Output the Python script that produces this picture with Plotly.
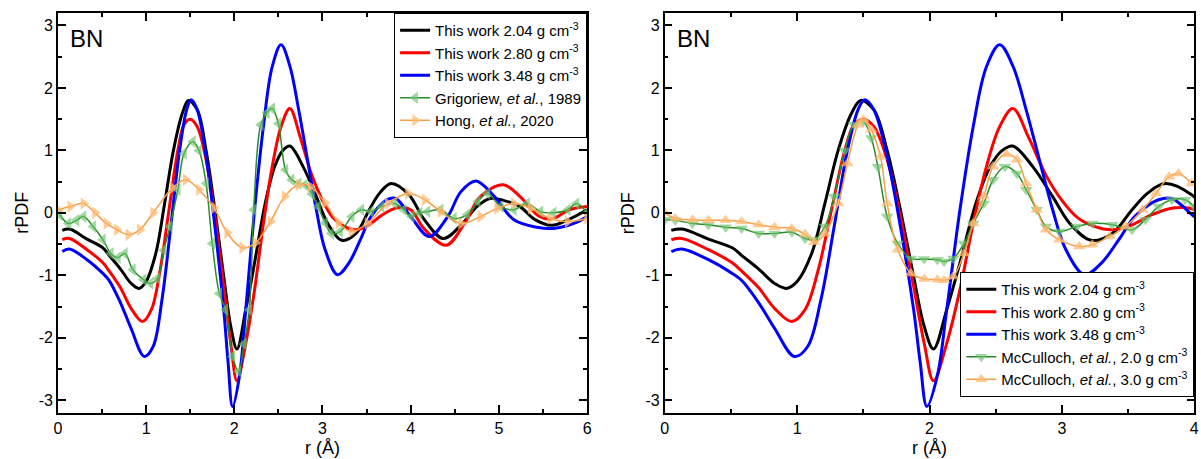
import plotly.graph_objects as go

# ---------------- data ----------------
# This work (same simulations shown in both panels)
r_204 = [0.05, 0.13, 0.33, 0.51, 0.58, 0.71, 0.83, 0.92, 1.00, 1.11, 1.21, 1.31, 1.41, 1.48, 1.58, 1.68, 1.78,
         1.88, 1.96, 2.03, 2.13, 2.23, 2.35, 2.46, 2.55, 2.63, 2.78, 2.93, 3.06, 3.22, 3.38, 3.53, 3.65, 3.78, 3.98,
         4.15, 4.37, 4.60, 4.75, 4.90, 5.05, 5.24, 5.40, 5.60, 5.80, 6.00]
g_204 = [-0.28, -0.26, -0.42, -0.56, -0.68, -0.90, -1.13, -1.21, -1.10, -0.65, 0.15, 1.00, 1.59, 1.80, 1.65, 1.00, 0.05,
         -1.02, -1.82, -2.18, -1.55, -0.80, 0.15, 0.75, 1.00, 1.07, 0.74, 0.26, -0.17, -0.44, -0.33, 0.05, 0.32, 0.47, 0.29,
         -0.10, -0.41, -0.15, 0.10, 0.23, 0.20, 0.10, -0.10, -0.20, -0.10, 0.05]

r_280 = [0.05, 0.13, 0.33, 0.51, 0.58, 0.71, 0.83, 0.96, 1.06, 1.16, 1.26, 1.36, 1.43, 1.50, 1.58, 1.68, 1.78,
         1.88, 1.96, 2.03, 2.13, 2.23, 2.33, 2.43, 2.53, 2.63, 2.75, 2.88, 3.00, 3.12, 3.25, 3.38, 3.52, 3.68,
         3.85, 4.00, 4.15, 4.40, 4.61, 4.79, 5.05, 5.24, 5.45, 5.60, 5.80, 6.00]
g_280 = [-0.43, -0.41, -0.59, -0.80, -0.93, -1.20, -1.53, -1.74, -1.55, -0.91, 0.05, 1.00, 1.41, 1.50, 1.38, 0.85, -0.06,
         -1.18, -2.09, -2.69, -2.09, -1.23, -0.17, 0.74, 1.38, 1.67, 1.20, 0.60, 0.20, -0.08, -0.22, -0.27, -0.20, -0.03,
         0.08, 0.05, -0.25, -0.52, -0.17, 0.26, 0.45, 0.26, -0.05, -0.10, 0.05, 0.10]

r_348 = [0.05, 0.13, 0.33, 0.51, 0.58, 0.71, 0.83, 0.98, 1.08, 1.18, 1.28, 1.38, 1.46, 1.51, 1.58, 1.68, 1.78,
         1.88, 1.93, 1.98, 2.06, 2.13, 2.23, 2.33, 2.43, 2.53, 2.63, 2.73, 2.83, 2.93, 3.03, 3.17, 3.30, 3.43,
         3.55, 3.73, 3.83, 4.00, 4.21, 4.42, 4.57, 4.74, 4.95, 5.17, 5.43, 5.62, 5.85, 6.00]
g_348 = [-0.62, -0.58, -0.75, -0.97, -1.08, -1.44, -1.85, -2.30, -2.14, -1.39, -0.22, 1.00, 1.65, 1.81, 1.65, 0.90, -0.22,
         -1.55, -2.40, -3.10, -2.60, -1.55, 0.05, 1.38, 2.34, 2.69, 2.35, 1.65, 0.85, 0.05, -0.59, -0.99, -0.80, -0.43,
         -0.06, 0.21, 0.23, -0.06, -0.38, -0.06, 0.34, 0.51, 0.26, -0.11, -0.23, -0.25, -0.17, -0.06]

# Grigoriew et al., 1989
r_grig = [0.02, 0.12, 0.21, 0.29, 0.40, 0.51, 0.60, 0.68, 0.76, 0.85, 0.97, 1.05, 1.13, 1.20, 1.27, 1.36, 1.43, 1.53,
          1.60, 1.68, 1.75, 1.83, 1.90, 1.98, 2.05, 2.11, 2.17, 2.22, 2.30, 2.37, 2.43, 2.50, 2.58, 2.65, 2.73, 2.80,
          2.88, 2.95, 3.03, 3.10, 3.20, 3.33, 3.44, 3.55, 3.67, 3.82, 3.92, 4.01, 4.10, 4.19, 4.34, 4.49, 4.64, 4.76,
          4.87, 5.02, 5.17, 5.32, 5.47, 5.62, 5.78, 5.88, 6.00]
g_grig = [-0.03, -0.17, -0.12, -0.06, -0.22, -0.43, -0.65, -0.72, -0.65, -0.91, -1.07, -1.13, -1.05, -0.60, -0.22, 0.37,
          0.95, 1.14, 1.00, 0.47, -0.49, -1.29, -1.55, -2.30, -2.54, -2.10, -1.55, 0.05, 1.41, 1.60, 1.67, 1.43, 0.69,
          0.53, 0.47, 0.45, 0.30, 0.10, -0.16, -0.33, -0.30, -0.06, 0.05, 0.02, 0.10, 0.15, 0.05, -0.06, 0.00, 0.02,
          0.05, -0.09, -0.03, 0.18, 0.31, 0.10, 0.05, 0.15, 0.02, 0.00, 0.05, 0.15, 0.00]

# Hong et al., 2020
r_hong = [0.00, 0.14, 0.29, 0.42, 0.55, 0.67, 0.80, 0.93, 1.08, 1.30, 1.45, 1.60, 1.77, 1.92, 2.09, 2.24, 2.41, 2.57,
          2.73, 2.86, 3.03, 3.18, 3.33, 3.51, 3.74, 3.97, 4.16, 4.34, 4.57, 4.79, 4.98, 5.17, 5.36, 5.58, 5.78, 6.00]
g_hong = [0.05, 0.10, 0.15, 0.00, -0.17, -0.27, -0.35, -0.27, 0.00, 0.40, 0.53, 0.37, 0.08, -0.32, -0.56, -0.48, -0.14,
          0.26, 0.45, 0.42, 0.16, -0.16, -0.30, -0.17, 0.15, 0.31, 0.21, 0.02, -0.17, -0.06, 0.07, 0.15, 0.07, -0.09,
          -0.14, -0.09]

# McCulloch et al., 2.0 g cm-3
r_mc20 = [0.00, 0.08, 0.21, 0.33, 0.46, 0.58, 0.71, 0.83, 0.96, 1.06, 1.13, 1.21, 1.28, 1.36, 1.43, 1.50, 1.56, 1.61,
          1.68, 1.76, 1.86, 1.96, 2.06, 2.11, 2.18, 2.26, 2.33, 2.41, 2.48, 2.57, 2.66, 2.73, 2.81, 2.88, 2.98, 3.11,
          3.23, 3.38, 3.53, 3.63, 3.73, 3.83, 3.93, 4.00]
g_mc20 = [-0.11, -0.12, -0.17, -0.19, -0.23, -0.25, -0.33, -0.33, -0.31, -0.41, -0.43, -0.22, 0.26, 1.00, 1.41, 1.46,
          1.20, 0.74, -0.06, -0.49, -0.73, -0.74, -0.75, -0.78, -0.73, -0.49, -0.17, 0.15, 0.53, 0.74, 0.63, 0.37, 0.05,
          -0.22, -0.30, -0.22, -0.17, -0.19, -0.27, -0.11, 0.10, 0.21, 0.21, 0.10]

# McCulloch et al., 3.0 g cm-3
r_mc30 = [0.00, 0.08, 0.21, 0.33, 0.46, 0.58, 0.71, 0.83, 0.96, 1.06, 1.13, 1.21, 1.31, 1.38, 1.46, 1.50, 1.56, 1.63,
          1.68, 1.76, 1.86, 1.96, 2.06, 2.11, 2.18, 2.26, 2.33, 2.41, 2.48, 2.58, 2.66, 2.73, 2.81, 2.88, 2.98, 3.13,
          3.23, 3.36, 3.48, 3.61, 3.71, 3.81, 3.88, 3.98]
g_mc30 = [0.00, -0.09, -0.11, -0.12, -0.12, -0.14, -0.19, -0.23, -0.25, -0.34, -0.47, -0.33, 0.15, 0.79, 1.41, 1.49,
          1.33, 0.90, 0.15, -0.59, -0.97, -1.06, -1.07, -1.08, -1.02, -0.65, -0.17, 0.26, 0.74, 0.94, 0.85, 0.47, 0.05,
          -0.27, -0.43, -0.54, -0.51, -0.38, -0.22, 0.05, 0.31, 0.58, 0.63, 0.47]

x_ticks_left = [0, 1, 2, 3, 4, 5, 6]
x_ticks_right = [0, 1, 2, 3, 4]
y_ticks = [-3, -2, -1, 0, 1, 2, 3]

# ---------------- figure ----------------
W, H = 1201, 459
FONT = "Liberation Sans, Arial, sans-serif"

GREEN_LINE = "rgb(40,140,40)"
GREEN_MK = "rgba(110,195,110,0.65)"
ORANGE_LINE = "rgb(245,160,70)"
ORANGE_MK = "rgba(255,185,115,0.75)"

fig = go.Figure()

def work_traces(xa, ya, leg):
    for r, g, c, lab in [(r_204, g_204, "black", "This work 2.04 g cm<sup>-3</sup>"),
                         (r_280, g_280, "red", "This work 2.80 g cm<sup>-3</sup>"),
                         (r_348, g_348, "blue", "This work 3.48 g cm<sup>-3</sup>")]:
        fig.add_trace(go.Scatter(x=r, y=g, mode="lines", name=lab, xaxis=xa, yaxis=ya, legend=leg,
                                 line=dict(color=c, width=3, shape="spline", smoothing=1.0)))

def exp_trace(r, g, lab, lc, mc, sym, xa, ya, leg):
    fig.add_trace(go.Scatter(x=r, y=g, mode="lines+markers", name=lab, xaxis=xa, yaxis=ya, legend=leg,
                             line=dict(color=lc, width=1.5, shape="spline", smoothing=1.0),
                             marker=dict(symbol=sym, size=11, color=mc, line=dict(width=0))))

work_traces("x", "y", "legend")
exp_trace(r_grig, g_grig, "Grigoriew, <i>et al.</i>, 1989", GREEN_LINE, GREEN_MK, "triangle-left", "x", "y", "legend")
exp_trace(r_hong, g_hong, "Hong, <i>et al.</i>, 2020", ORANGE_LINE, ORANGE_MK, "triangle-right", "x", "y", "legend")

work_traces("x2", "y2", "legend2")
exp_trace(r_mc20, g_mc20, "McCulloch, <i>et al.</i>, 2.0 g cm<sup>-3</sup>", GREEN_LINE, GREEN_MK, "triangle-down", "x2", "y2", "legend2")
exp_trace(r_mc30, g_mc30, "McCulloch, <i>et al.</i>, 3.0 g cm<sup>-3</sup>", ORANGE_LINE, ORANGE_MK, "triangle-up", "x2", "y2", "legend2")

left_dom = [54.3 / W, 587.5 / W]
right_dom = [665.7 / W, 1199.3 / W]
y_dom = [1 - 412.7 / H, 1 - 13.0 / H]

def xaxis(dom, rng, ticks, anchor):
    return dict(domain=dom, range=rng, tickvals=ticks, ticktext=[str(t) for t in ticks], anchor=anchor,
                showline=True, linecolor="black", linewidth=1.5, mirror="ticks", ticks="inside",
                ticklen=8, tickwidth=1.5, tickcolor="black", showgrid=False, zeroline=False,
                tickfont=dict(family=FONT, size=16, color="black"),
                minor=dict(dtick=0.5, ticks="inside", ticklen=4, tickwidth=1.5, tickcolor="black", showgrid=False))

def yaxis(rng, anchor):
    return dict(domain=y_dom, range=rng, tickvals=y_ticks, ticktext=[str(t) for t in y_ticks], anchor=anchor,
                showline=True, linecolor="black", linewidth=1.5, mirror="ticks", ticks="inside",
                ticklen=8, tickwidth=1.5, tickcolor="black", showgrid=False, zeroline=False,
                tickfont=dict(family=FONT, size=16, color="black"),
                minor=dict(dtick=0.5, ticks="inside", ticklen=4, tickwidth=1.5, tickcolor="black", showgrid=False))

legend_common = dict(bgcolor="white", bordercolor="black", borderwidth=1,
                     font=dict(family=FONT, size=15, color="black"),
                     itemwidth=30, tracegroupgap=0, itemclick=False)

def note(text, px, py, size, angle=0, xanchor="center"):
    return dict(text=text, x=px / W, y=1 - py / H, xref="paper", yref="paper", textangle=angle,
                xanchor=xanchor, yanchor="middle", showarrow=False,
                font=dict(family=FONT, size=size, color="black"))

fig.update_layout(
    width=W, height=H, margin=dict(l=0, r=0, t=0, b=0),
    paper_bgcolor="white", plot_bgcolor="white",
    font=dict(family=FONT, color="black"),
    xaxis=xaxis(left_dom, [0, 6], x_ticks_left, "y"),
    yaxis=yaxis([-3.2, 3.2], "x"),
    xaxis2=xaxis(right_dom, [0, 4], x_ticks_right, "y2"),
    yaxis2=yaxis([-3.2, 3.2], "x2"),
    legend=dict(x=left_dom[1], y=y_dom[1], xanchor="right", yanchor="top", **legend_common),
    legend2=dict(x=right_dom[1], y=1 - 397 / H, xanchor="right", yanchor="bottom", **legend_common),
    annotations=[
        note("BN", 64, 38, 24, xanchor="left"),
        note("BN", 676, 38, 24, xanchor="left"),
        note("rPDF", 18, 213, 18, angle=-90),
        note("rPDF", 629, 213, 18, angle=-90),
        note("r (Å)", 321, 448, 18),
        note("r (Å)", 932, 448, 18),
    ],
)

fig.write_html("out.html", config={"displayModeBar": False},
               post_script="document.body.style.margin='0';document.body.style.overflow='hidden';")
